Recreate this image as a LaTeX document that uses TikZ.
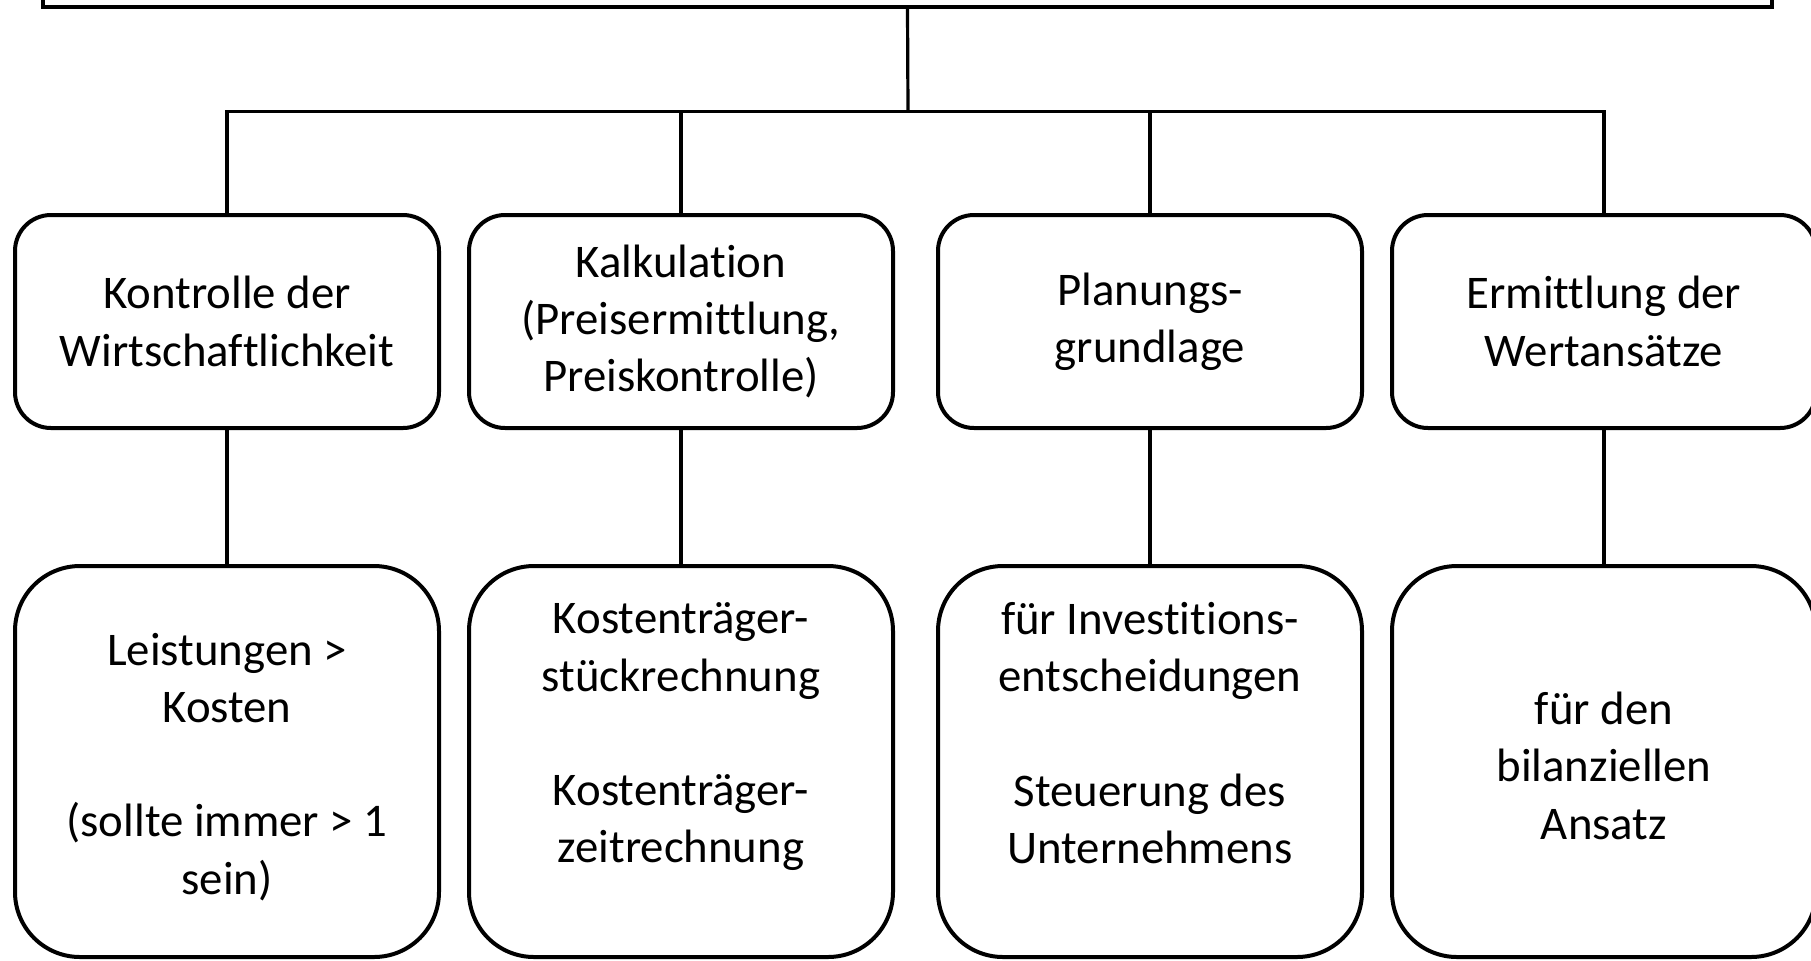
\documentclass[tikz,border=0pt]{standalone}
\usepackage{fontspec}
\setmainfont[Ligatures={NoCommon},RawFeature={-liga;-clig}]{Carlito}
\begin{document}
\begin{tikzpicture}[x=0.5pt,y=-0.5pt,
  topbox/.style={draw=black,line width=2pt,fill=white,rounded corners=18pt,
    minimum width=212pt,minimum height=106.5pt,inner sep=0pt,align=center,
    font=\fontsize{23.4pt}{28.6pt}\selectfont},
  lowbox/.style={draw=black,line width=2pt,fill=white,rounded corners=32.5pt,
    minimum width=212pt,minimum height=195.5pt,inner sep=0pt,align=center,
    font=\fontsize{23.4pt}{28.6pt}\selectfont},
  headbox/.style={draw=black,line width=2pt,fill=white,
    minimum width=864.5pt,minimum height=60pt,inner sep=0pt},
  conn/.style={draw=black,line width=1.6pt}]
\clip (0,0) rectangle (1811,960);
\fill[white] (0,0) rectangle (1811,960);

\node[headbox] (head) at (907.5,-53) {};

\node[topbox] (b1) at (227,321.5) {Kontrolle der\\Wirtschaftlichkeit};
\node[topbox] (b2) at (681,321.5) {Kalkulation\\(Preisermittlung,\\Preiskontrolle)};
\node[topbox] (b3) at (1150,321.5) {Planungs-\\grundlage};
\node[topbox] (b4) at (1604,321.5) {Ermittlung der\\Wertansätze};

\node[lowbox] (c1) at (227,761.5) {\rule{0pt}{21.5pt}Leistungen >\\Kosten\\[28.6pt](sollte immer > 1\\sein)};
\node[lowbox] (c2) at (681,761.5) {Kostenträger-\\stückrechnung\\[28.6pt]Kostenträger-\\zeitrechnung\\\mbox{}};
\node[lowbox] (c3) at (1150,761.5) {für Investitions-\\entscheidungen\\[28.6pt]Steuerung des\\Unternehmens\\\mbox{}};
\node[lowbox] (c4) at (1604,761.5) {\rule{0pt}{20.6pt}für den\\bilanziellen\\Ansatz};

\coordinate (j) at (908,111.5);
\draw[conn] (head.south) -- (j);
\draw[conn] (b1.north) |- (j) -| (b4.north);
\draw[conn] (b2.north) -- (b2.north |- j);
\draw[conn] (b3.north) -- (b3.north |- j);

\draw[conn] (b1.south) -- (c1.north);
\draw[conn] (b2.south) -- (c2.north);
\draw[conn] (b3.south) -- (c3.north);
\draw[conn] (b4.south) -- (c4.north);
\end{tikzpicture}
\end{document}
